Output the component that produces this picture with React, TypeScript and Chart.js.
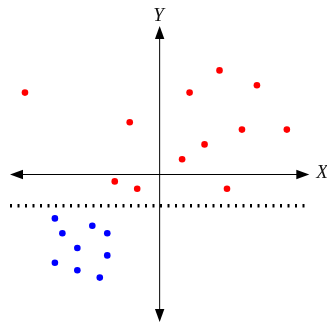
import React, { useEffect, useRef } from "react";
import { Chart, registerables } from "chart.js";

Chart.register(...registerables);

const redX = [-18, -4, 4, 8, 13, 11, 17, 6, 3, -6, -3, 9];
const redY = [11, 7, 11, 14, 12, 6, 6, 4, 2, -1, -2, -2];
const blueX = [-14, -13, -9, -7, -11, -7, -14, -11, -8];
const blueY = [-6, -8, -7, -8, -10, -11, -12, -13, -14];
const axisMin = -20;
const axisMax = 20;
const separatorY = -4.3;
const xLabel = "X";
const yLabel = "Y";

const axesPlugin = {
  id: "axesPlugin",
  beforeDatasetsDraw(chart: any) {
    const ctx = chart.ctx as CanvasRenderingContext2D;
    const xs = chart.scales.x;
    const ys = chart.scales.y;
    const x0 = xs.getPixelForValue(0);
    const y0 = ys.getPixelForValue(0);
    const xl = xs.getPixelForValue(axisMin);
    const xr = xs.getPixelForValue(axisMax);
    const yt = ys.getPixelForValue(axisMax);
    const yb = ys.getPixelForValue(axisMin);
    const L = 13;
    const H = 4.7;
    ctx.save();
    ctx.strokeStyle = "#000";
    ctx.fillStyle = "#000";
    ctx.lineWidth = 1;
    // horizontal axis
    ctx.beginPath();
    ctx.moveTo(xl + L - 2, Math.round(y0) + 0.5);
    ctx.lineTo(xr - L + 2, Math.round(y0) + 0.5);
    ctx.stroke();
    // vertical axis
    ctx.beginPath();
    ctx.moveTo(x0, yt + L - 2);
    ctx.lineTo(x0, yb - L + 2);
    ctx.stroke();
    const yc = Math.round(y0) + 0.5;
    const tri = (pts: number[][]) => {
      ctx.beginPath();
      ctx.moveTo(pts[0][0], pts[0][1]);
      ctx.lineTo(pts[1][0], pts[1][1]);
      ctx.lineTo(pts[2][0], pts[2][1]);
      ctx.closePath();
      ctx.fill();
    };
    tri([[xl, yc], [xl + L, yc - H], [xl + L, yc + H]]);
    tri([[xr, yc], [xr - L, yc - H], [xr - L, yc + H]]);
    tri([[x0, yt], [x0 - H, yt + L], [x0 + H, yt + L]]);
    tri([[x0, yb], [x0 - H, yb - L], [x0 + H, yb - L]]);
    // dotted separator
    const ySep = ys.getPixelForValue(separatorY);
    ctx.lineWidth = 3.5;
    ctx.setLineDash([2, 5.5]);
    ctx.beginPath();
    ctx.moveTo(xl, ySep);
    ctx.lineTo(xr - 4, ySep);
    ctx.stroke();
    ctx.setLineDash([]);
    // labels
    ctx.font = "italic 19px 'Liberation Serif', 'DejaVu Serif', serif";
    ctx.textBaseline = "middle";
    ctx.textAlign = "left";
    ctx.fillStyle = "#111";
    ctx.fillText(xLabel, xr + 7, y0 - 1);
    ctx.textAlign = "center";
    ctx.fillText(yLabel, x0 - 1, yt - 10);
    ctx.restore();
  },
};

export default function App() {
  const ref = useRef<HTMLCanvasElement | null>(null);
  useEffect(() => {
    if (!ref.current) return;
    const chart = new Chart(ref.current, {
      type: "scatter",
      data: {
        datasets: [
          {
            label: "red",
            data: redX.map((x, i) => ({ x, y: redY[i] })),
            backgroundColor: "#ff0000",
            borderColor: "#ff0000",
            pointRadius: 3.3,
            borderWidth: 0,
          },
          {
            label: "blue",
            data: blueX.map((x, i) => ({ x, y: blueY[i] })),
            backgroundColor: "#0000ff",
            borderColor: "#0000ff",
            pointRadius: 3.3,
            borderWidth: 0,
          },
        ],
      },
      options: {
        animation: false,
        responsive: false,
        devicePixelRatio: 1,
        clip: false,
        layout: { padding: { left: 10, right: 17.7, top: 26, bottom: 2.5 } },
        plugins: { legend: { display: false }, tooltip: { enabled: false } },
        scales: {
          x: { type: "linear", min: axisMin, max: axisMax, display: false },
          y: { type: "linear", min: axisMin, max: axisMax, display: false },
        },
      },
      plugins: [axesPlugin],
    } as any);
    return () => chart.destroy();
  }, []);
  return (
    <div style={{ position: "fixed", left: 0, top: 0, width: 327, height: 326, background: "#fff" }}>
      <canvas ref={ref} width={327} height={326} style={{ width: 327, height: 326, display: "block" }} />
    </div>
  );
}
